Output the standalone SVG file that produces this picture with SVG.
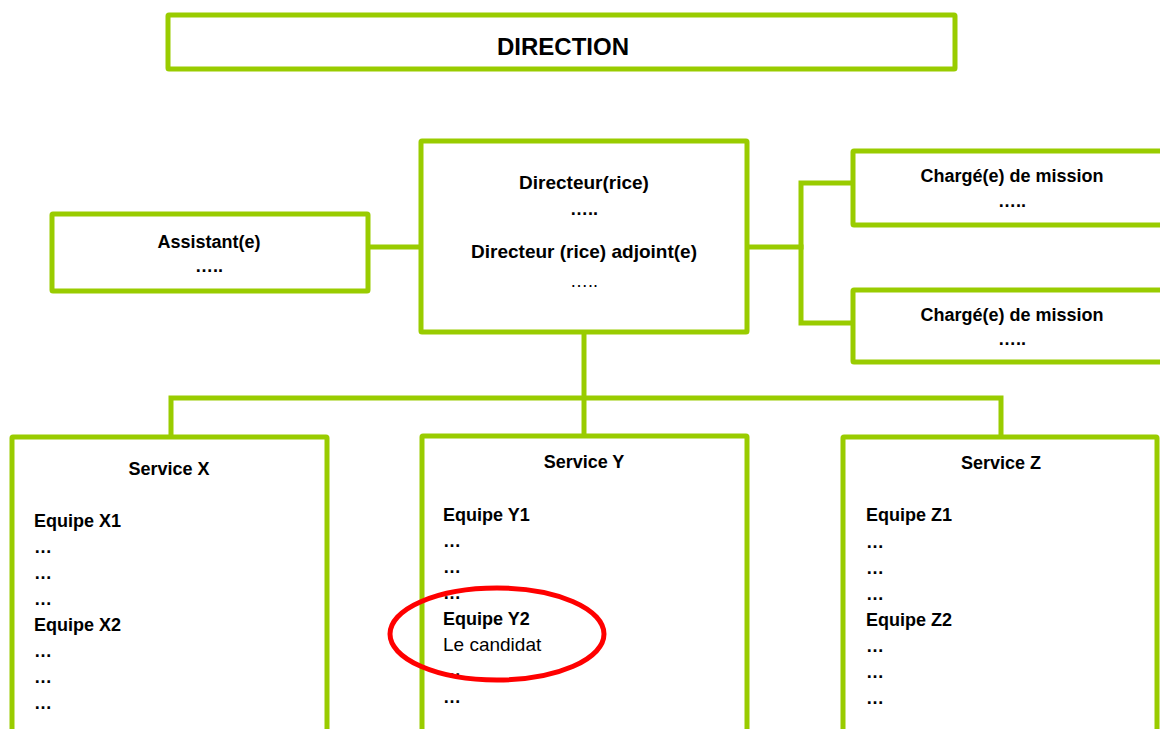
<svg xmlns="http://www.w3.org/2000/svg" width="1160" height="729" viewBox="0 0 1160 729">
<style>
.box{fill:#fff;stroke:#99cc00;stroke-width:5}
.con{fill:none;stroke:#99cc00;stroke-width:5;stroke-linecap:square}
text{font-family:"Liberation Sans",Arial,sans-serif;font-size:18px;fill:#000}
.b{font-weight:bold}
.c{text-anchor:middle}
.d{font-size:19px}
</style>
<rect width="1160" height="729" fill="#fff"/>
<g id="connectors">
<line class="con" x1="368" y1="247" x2="421" y2="247"/>
<line class="con" x1="747" y1="247" x2="801" y2="247"/>
<polyline class="con" points="853,183 801,183 801,323 853,323"/>
<line class="con" x1="584" y1="332" x2="584" y2="436"/>
<polyline class="con" points="171,437 171,398 1001,398 1001,437"/>
</g>
<g id="direction">
<rect class="box" x="168" y="15" width="787" height="54" rx="1"/>
<text class="b c" x="563" y="55" style="font-size:24px">DIRECTION</text>
</g>
<g id="assistant">
<rect class="box" x="52" y="214" width="316" height="77" rx="1"/>
<text class="b c" x="209" y="248">Assistant(e)</text>
<text class="b c" x="209" y="272">…..</text>
</g>
<g id="directeur">
<rect class="box" x="421" y="141" width="326" height="191" rx="1"/>
<text class="b c d" x="584" y="189">Directeur(rice)</text>
<text class="b c" x="584" y="215">…..</text>
<text class="b c d" x="584" y="258">Directeur (rice) adjoint(e)</text>
<text class="c" x="584" y="287">…..</text>
</g>
<g id="charge1">
<rect class="box" x="853" y="151" width="330" height="74" rx="1"/>
<text class="b c" x="1012" y="182">Chargé(e) de mission</text>
<text class="b c" x="1012" y="207">…..</text>
</g>
<g id="charge2">
<rect class="box" x="853" y="290" width="330" height="72" rx="1"/>
<text class="b c" x="1012" y="321">Chargé(e) de mission</text>
<text class="b c" x="1012" y="345">…..</text>
</g>
<g id="serviceX">
<rect class="box" x="12" y="437" width="315" height="310" rx="1"/>
<text class="b c" x="169" y="475">Service X</text>
<text class="b" x="34" y="527">Equipe X1</text>
<text class="b" x="34" y="553">…</text>
<text class="b" x="34" y="579">…</text>
<text class="b" x="34" y="605">…</text>
<text class="b" x="34" y="631">Equipe X2</text>
<text class="b" x="34" y="657">…</text>
<text class="b" x="34" y="683">…</text>
<text class="b" x="34" y="709">…</text>
</g>
<g id="serviceY">
<rect class="box" x="422" y="436" width="325" height="310" rx="1"/>
<text class="b c" x="584" y="468">Service Y</text>
<text class="b" x="443" y="521">Equipe Y1</text>
<text class="b" x="443" y="547">…</text>
<text class="b" x="443" y="573">…</text>
<text class="b" x="443" y="599">…</text>
<text class="b" x="443" y="625">Equipe Y2</text>
<text class="d" x="443" y="651">Le candidat</text>
<text class="b" x="443" y="676">…</text>
<text class="b" x="443" y="703">…</text>
</g>
<g id="serviceZ">
<rect class="box" x="843" y="437" width="314" height="310" rx="1"/>
<text class="b c" x="1001" y="469">Service Z</text>
<text class="b" x="866" y="521">Equipe Z1</text>
<text class="b" x="866" y="548">…</text>
<text class="b" x="866" y="574">…</text>
<text class="b" x="866" y="600">…</text>
<text class="b" x="866" y="626">Equipe Z2</text>
<text class="b" x="866" y="652">…</text>
<text class="b" x="866" y="678">…</text>
<text class="b" x="866" y="704">…</text>
</g>
<g id="highlight">
<ellipse cx="497" cy="634" rx="107" ry="46" fill="none" stroke="#ff0000" stroke-width="5"/>
</g>
</svg>
